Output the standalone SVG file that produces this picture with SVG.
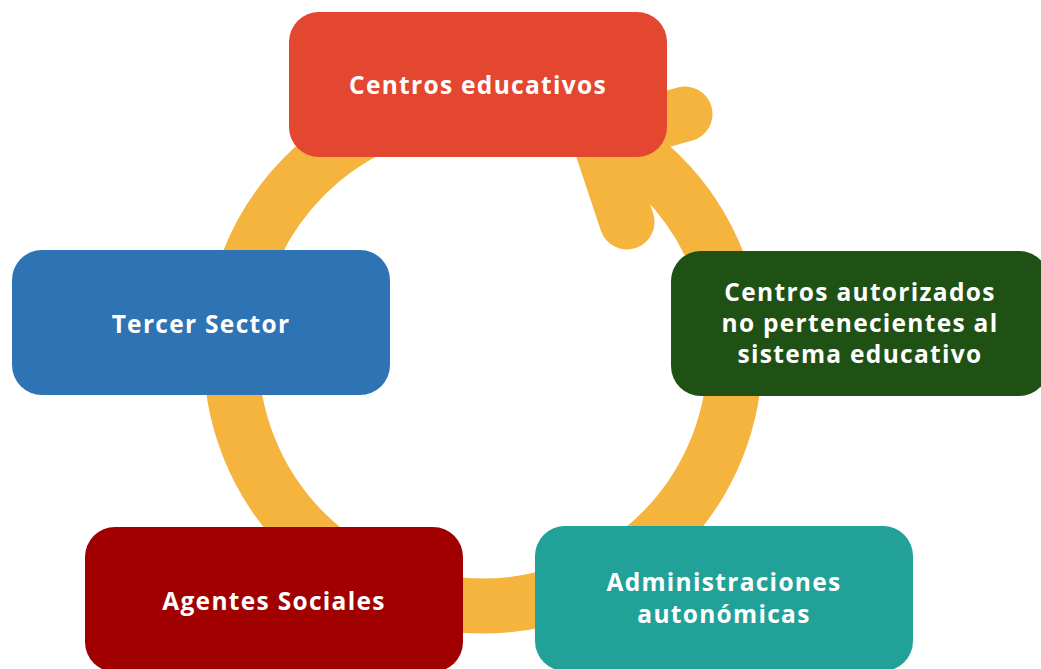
<svg xmlns="http://www.w3.org/2000/svg" width="1041" height="669" viewBox="0 0 1041 669">
<style>
.box{stroke:none}
.t{font-family:"Open Sans","Liberation Sans",sans-serif;font-weight:bold;font-size:24.5px;letter-spacing:1.3px;fill:#FFFFFF;text-anchor:middle}
.ring{fill:none;stroke:#F4B43E;stroke-width:55;stroke-linecap:round;stroke-linejoin:round}
</style>
<rect width="1041" height="669" fill="#FFFFFF"/>
<g id="connectors">
<circle class="ring" cx="483" cy="354" r="252"/>
<polyline class="ring" stroke-width="52" points="685,114 599,138 627,222"/>
</g>
<g id="centros-educativos">
<rect class="box" x="289" y="12" width="378" height="145" rx="30" fill="#E4472F"/>
<text class="t" x="478" y="94">Centros educativos</text>
</g>
<g id="tercer-sector">
<rect class="box" x="12" y="250" width="378" height="145" rx="30" fill="#2E73B4"/>
<text class="t" x="201" y="333">Tercer Sector</text>
</g>
<g id="centros-autorizados">
<rect class="box" x="671" y="251" width="378" height="145" rx="30" fill="#1F5115"/>
<text class="t" x="860" y="301">Centros autorizados</text>
<text class="t" x="860" y="332">no pertenecientes al</text>
<text class="t" x="860" y="363">sistema educativo</text>
</g>
<g id="agentes-sociales">
<rect class="box" x="85" y="527" width="378" height="145" rx="30" fill="#A00000"/>
<text class="t" x="274" y="610">Agentes Sociales</text>
</g>
<g id="administraciones">
<rect class="box" x="535" y="526" width="378" height="145" rx="30" fill="#22A199"/>
<text class="t" x="724" y="591">Administraciones</text>
<text class="t" x="724" y="623">autonómicas</text>
</g>
</svg>
